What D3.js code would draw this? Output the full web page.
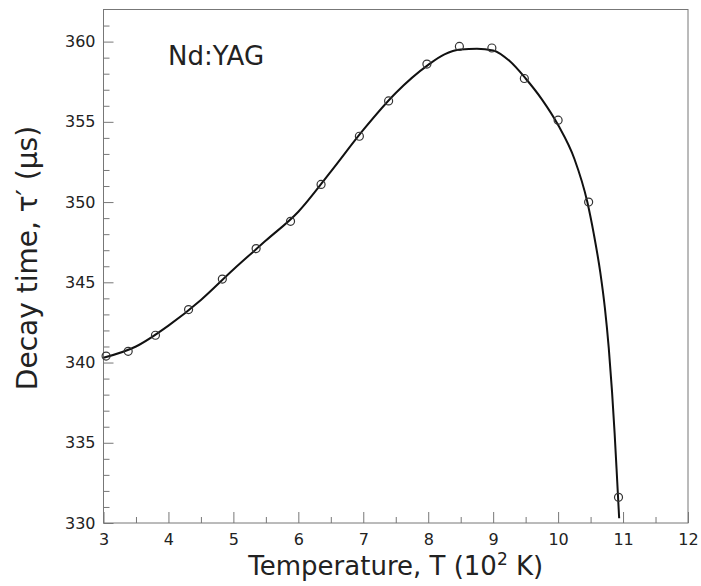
<!DOCTYPE html>
<html>
<head>
<meta charset="utf-8">
<script src="https://cdn.jsdelivr.net/npm/d3@7"></script>
<style>
  body { margin: 0; background: #fff; }
  text { font-family: "DejaVu Sans", sans-serif; fill: #222; }
</style>
</head>
<body>
<div id="chart"></div>
<script>
// Measured points (T in 10^2 K, decay time in us)
const tempPoints = [3.04, 3.38, 3.8, 4.31, 4.83, 5.35, 5.88, 6.35, 6.94, 7.39, 7.98, 8.48, 8.98, 9.48, 10.0, 10.47, 10.93];
const tauPoints = [340.4, 340.7, 341.7, 343.3, 345.2, 347.1, 348.8, 351.1, 354.1, 356.3, 358.6, 359.7, 359.6, 357.7, 355.1, 350.0, 331.6];

// Fitted curve
const fitTemp = [3.0, 3.5, 4.0, 4.5, 5.0, 5.5, 6.0, 6.5, 7.0, 7.5, 8.0, 8.25, 8.5, 8.75, 9.0, 9.25, 9.5, 9.75, 10.0, 10.25, 10.45, 10.55, 10.65, 10.72, 10.78, 10.83, 10.87, 10.91, 10.94];
const fitTau = [340.3, 341.0, 342.3, 343.9, 345.8, 347.6, 349.4, 351.9, 354.5, 356.8, 358.55, 359.2, 359.5, 359.55, 359.45, 358.8, 357.7, 356.4, 354.8, 352.7, 350.0, 348.0, 345.6, 343.4, 340.9, 338.2, 335.6, 332.6, 330.3];

const xTicks = [3, 4, 5, 6, 7, 8, 9, 10, 11, 12];
const yTicks = [330, 335, 340, 345, 350, 355, 360];

const width = 701;
const height = 586;
const margin = { top: 9.5, right: 13, bottom: 63, left: 103.5 };

const svg = d3.select('#chart')
  .append('svg')
  .attr('width', width)
  .attr('height', height);

const x = d3.scaleLinear().domain([3, 12]).range([margin.left, width - margin.right]);
const y = d3.scaleLinear().domain([330, 362]).range([height - margin.bottom, margin.top]);

// Frame
svg.append('rect')
  .attr('x', x(3))
  .attr('y', y(362))
  .attr('width', x(12) - x(3))
  .attr('height', y(330) - y(362))
  .attr('fill', 'none')
  .attr('stroke', '#777')
  .attr('stroke-width', 1);

// Bottom axis, ticks pointing inward
const xAxis = svg.append('g')
  .attr('transform', 'translate(0,' + y(330) + ')')
  .call(d3.axisBottom(x).tickValues(xTicks).tickSize(-11).tickFormat(d3.format('d')));

svg.append('g')
  .attr('transform', 'translate(0,' + y(330) + ')')
  .call(d3.axisBottom(x).tickValues(d3.range(3.5, 12, 1)).tickSize(-6).tickFormat(''));

// Left axis
const yAxis = svg.append('g')
  .attr('transform', 'translate(' + x(3) + ',0)')
  .call(d3.axisLeft(y).tickValues(yTicks).tickSize(-10).tickFormat(d3.format('d')));

svg.append('g')
  .attr('transform', 'translate(' + x(3) + ',0)')
  .call(d3.axisLeft(y).tickValues(d3.range(331, 362, 1).filter(d => d % 5 !== 0)).tickSize(-6).tickFormat(''));

svg.selectAll('.domain').remove();
svg.selectAll('.tick line').attr('stroke', '#777');

xAxis.selectAll('text')
  .attr('font-size', 16)
  .attr('font-family', '"DejaVu Sans", sans-serif')
  .attr('fill', '#222')
  .attr('dy', 0)
  .attr('y', 22);

yAxis.selectAll('text')
  .attr('font-size', 16)
  .attr('font-family', '"DejaVu Sans", sans-serif')
  .attr('fill', '#222')
  .attr('x', -8);

// Fitted line
const line = d3.line()
  .x((d, i) => x(fitTemp[i]))
  .y(d => y(d))
  .curve(d3.curveMonotoneX);

svg.append('path')
  .datum(fitTau)
  .attr('d', line)
  .attr('fill', 'none')
  .attr('stroke', '#111')
  .attr('stroke-width', 2);

// Data circles
svg.selectAll('circle.pt')
  .data(tauPoints)
  .enter()
  .append('circle')
  .attr('class', 'pt')
  .attr('cx', (d, i) => x(tempPoints[i]))
  .attr('cy', d => y(d))
  .attr('r', 4)
  .attr('fill', 'none')
  .attr('stroke', '#333')
  .attr('stroke-width', 1.2);

// Labels
svg.append('text')
  .attr('x', 168)
  .attr('y', 65)
  .attr('font-size', 26)
  .text('Nd:YAG');

const xTitle = svg.append('text')
  .attr('x', (x(3) + x(12)) / 2)
  .attr('y', 575)
  .attr('text-anchor', 'middle')
  .attr('font-size', 26);
xTitle.append('tspan').text('Temperature, T (10');
xTitle.append('tspan').attr('dy', -10).attr('font-size', 17).text('2');
xTitle.append('tspan').attr('dy', 10).text(' K)');

svg.append('text')
  .attr('transform', 'translate(37,258) rotate(-90)')
  .attr('text-anchor', 'middle')
  .attr('font-size', 28)
  .text('Decay time, \u03C4\u2032 (\u03BCs)');
</script>
</body>
</html>
